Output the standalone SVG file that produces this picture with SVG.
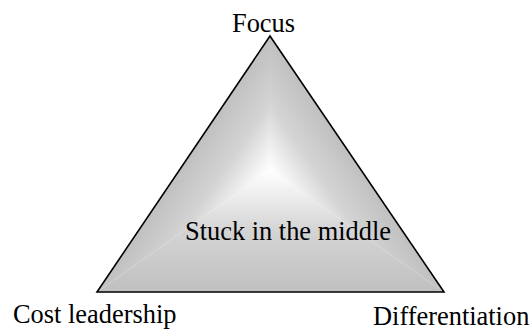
<svg xmlns="http://www.w3.org/2000/svg" width="532" height="334" viewBox="0 0 532 334">
  <style>
    .lbl { font-family: "Liberation Serif", "Times New Roman", serif; font-size: 26.4px; fill: #000; }
    .outline { fill: none; stroke: #000; stroke-width: 1.6; stroke-linejoin: miter; }
  </style>
  <defs>
    <linearGradient id="gBottom" gradientUnits="userSpaceOnUse" x1="270" y1="292" x2="270" y2="170">
      <stop offset="0" stop-color="#c0c0c0"/>
      <stop offset="0.5" stop-color="#d4d4d4"/>
      <stop offset="1" stop-color="#ffffff"/>
    </linearGradient>
    <linearGradient id="gLeft" gradientUnits="userSpaceOnUse" x1="207.83" y1="128" x2="270" y2="170">
      <stop offset="0" stop-color="#c0c0c0"/>
      <stop offset="0.5" stop-color="#d4d4d4"/>
      <stop offset="1" stop-color="#ffffff"/>
    </linearGradient>
    <linearGradient id="gRight" gradientUnits="userSpaceOnUse" x1="332.31" y1="127.67" x2="270" y2="170">
      <stop offset="0" stop-color="#c0c0c0"/>
      <stop offset="0.5" stop-color="#d4d4d4"/>
      <stop offset="1" stop-color="#ffffff"/>
    </linearGradient>
  </defs>
  <rect width="532" height="334" fill="#ffffff"/>
  <g id="triangle">
    <polygon points="97,292 444,292 270,170" fill="url(#gBottom)"/>
    <polygon points="270,36 97,292 270,170" fill="url(#gLeft)"/>
    <polygon points="270,36 444,292 270,170" fill="url(#gRight)"/>
    <polygon class="outline" points="270,36 444,292 97,292"/>
  </g>
  <g id="connectors"></g>
  <g id="focus"><text class="lbl" x="232" y="32">Focus</text></g>
  <g id="stuck"><text class="lbl" x="185" y="240">Stuck in the middle</text></g>
  <g id="cost-leadership"><text class="lbl" x="13" y="323">Cost leadership</text></g>
  <g id="differentiation"><text class="lbl" x="373" y="325">Differentiation</text></g>
</svg>
